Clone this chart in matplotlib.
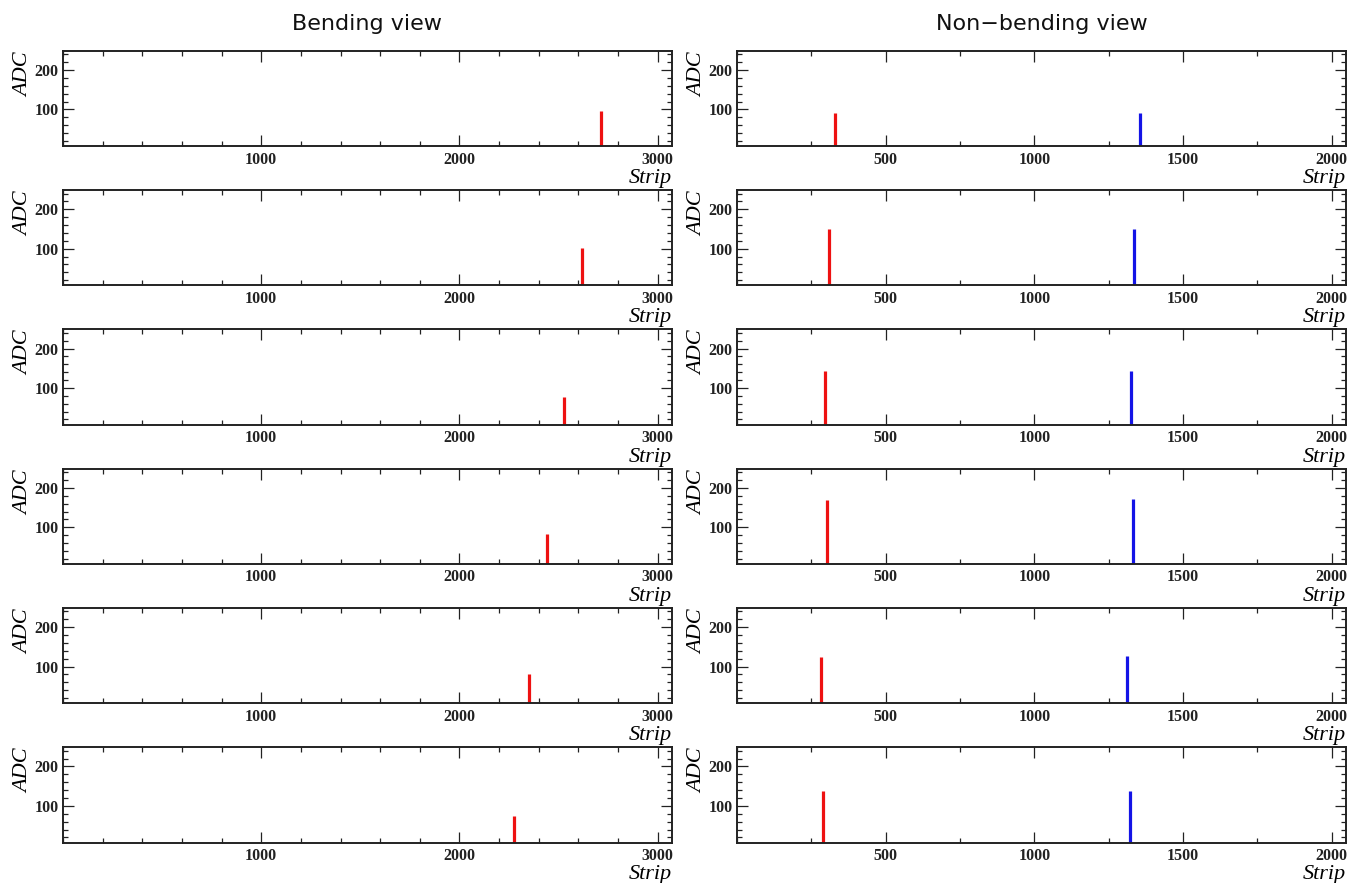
import matplotlib
matplotlib.use("Agg")
import matplotlib.pyplot as plt
from matplotlib.ticker import MultipleLocator

# ---- data ----
bend_strip = [2712, 2620, 2528, 2443, 2352, 2274]
bend_adc = [96, 102, 78, 83, 82, 74]
nb_red_strip = [330, 311, 296, 304, 283, 290]
nb_red_adc = [91, 151, 143, 170, 125, 139]
nb_blue_strip = [1355, 1336, 1326, 1332, 1312, 1321]
nb_blue_adc = [91, 151, 143, 173, 127, 139]
titles = ["Bending view", "Non\u2212bending view"]
xlims = [(0, 3072), (0, 2048)]
ylim = (7, 249)

W, H = 1348, 883
fig = plt.figure(figsize=(W / 100, H / 100), dpi=100)
fig.patch.set_facecolor("white")

serif_b = dict(family="Liberation Serif", weight="bold", size=11.5)
serif_i = dict(family="Liberation Serif", style="italic", size=16)

col_x = [63, 737]
ax_w = 609
ax_h = 95.3
top0 = 50.7
pitch = 139.3

red = "#ee1111"
blue = "#1414e6"

for col in range(2):
    for row in range(6):
        top = top0 + row * pitch
        ax = fig.add_axes([col_x[col] / W, 1 - (top + ax_h) / H, ax_w / W, ax_h / H])
        ax.set_xlim(*xlims[col])
        ax.set_ylim(*ylim)
        if col == 0:
            ax.vlines([bend_strip[row]], 0, [bend_adc[row]], colors=red, linewidth=2.3)
            ax.xaxis.set_major_locator(MultipleLocator(1000))
            ax.xaxis.set_minor_locator(MultipleLocator(200))
        else:
            ax.vlines([nb_red_strip[row]], 0, [nb_red_adc[row]], colors=red, linewidth=2.3)
            ax.vlines([nb_blue_strip[row]], 0, [nb_blue_adc[row]], colors=blue, linewidth=2.3)
            ax.xaxis.set_major_locator(MultipleLocator(500))
            ax.xaxis.set_minor_locator(MultipleLocator(250))
        ax.yaxis.set_major_locator(MultipleLocator(100))
        ax.yaxis.set_minor_locator(MultipleLocator(20))
        ax.tick_params(which="both", direction="in", top=True, right=True,
                       colors="#222222", width=0.9)
        ax.tick_params(which="major", length=8)
        ax.tick_params(which="minor", length=3.5)
        ax.tick_params(axis="x", which="major", pad=4)
        ax.tick_params(axis="y", which="major", pad=3)
        xt = [t for t in ax.get_xticks() if xlims[col][0] < t <= xlims[col][1]]
        ax.set_xticks(xt)
        ax.set_xticklabels([f"{int(t)}" for t in xt], fontdict=serif_b)
        yt = [100, 200]
        ax.set_yticks(yt)
        ax.set_yticklabels([str(t) for t in yt], fontdict=serif_b)
        for s in ax.spines.values():
            s.set_linewidth(1.4)
            s.set_color("#222222")
        # axis titles
        ax.text(1.0, -37 / ax_h, "Strip", ha="right", va="baseline",
                transform=ax.transAxes, **serif_i)
        ax.text(-39 / ax_w, 1 - 1.5 / ax_h, "ADC", rotation=90, ha="center", va="top",
                transform=ax.transAxes, **serif_i)

    cx = (col_x[col] + ax_w / 2) / W
    fig.text(cx, 1 - 30 / H, titles[col], ha="center", va="baseline",
             family="DejaVu Sans", size=16, color="#111111")

fig.savefig("out.png", dpi=100, facecolor="white")
